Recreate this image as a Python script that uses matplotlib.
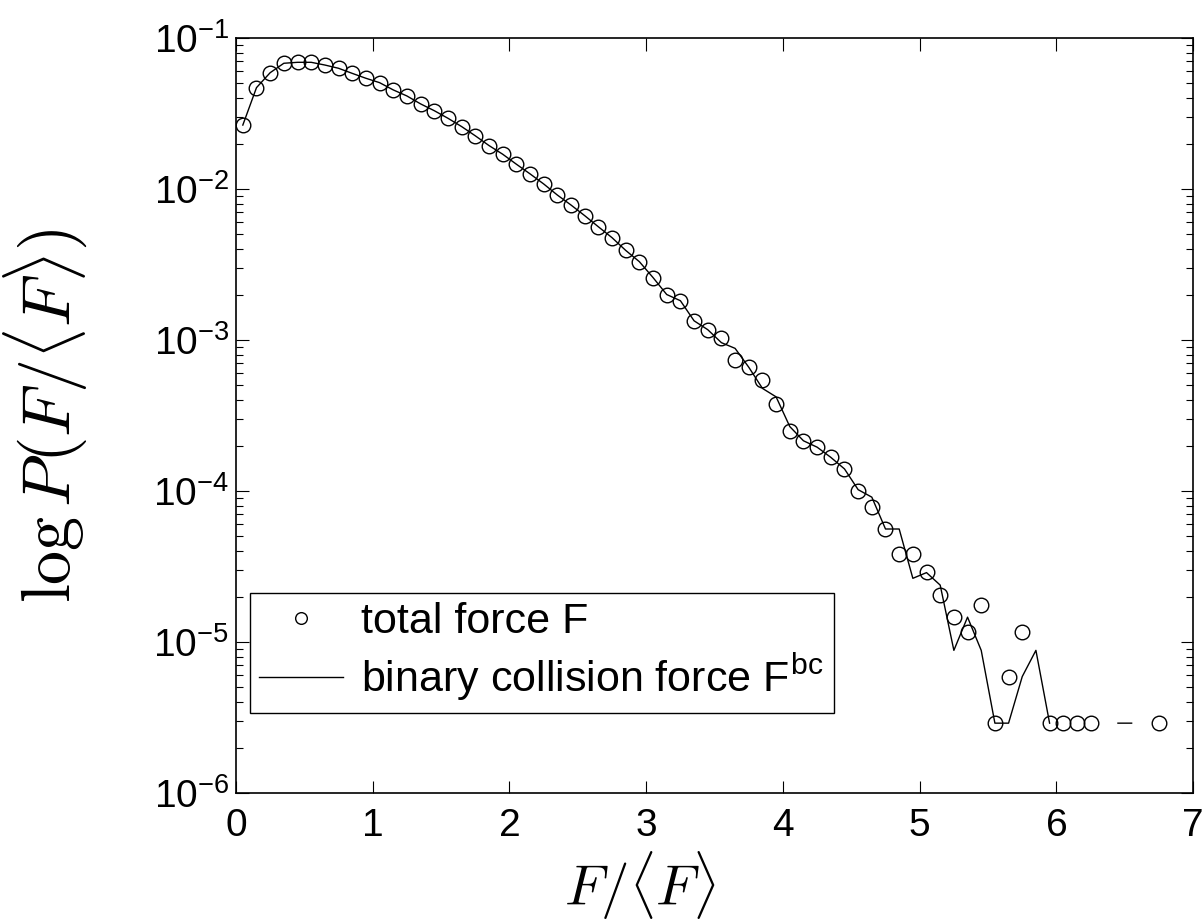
import numpy as np
import matplotlib.pyplot as plt
from matplotlib.ticker import LogLocator, NullFormatter, FixedLocator

plt.rcParams['font.family'] = ['Liberation Sans', 'DejaVu Sans']
plt.rcParams['mathtext.fontset'] = 'cm'

# bin centres of F/<F>
x = np.round(np.arange(0.05, 6.80, 0.1), 2)

nan = np.nan
# total force F (circles); nan = empty bin
p_total = [0.0265, 0.0469, 0.0589, 0.0680, 0.0690, 0.0690, 0.0662, 0.0630, 0.0583, 0.0541,
           0.0506, 0.0453, 0.0413, 0.0366, 0.0330, 0.0294, 0.0259, 0.0225, 0.0194, 0.0170,
           0.0146, 0.0126, 0.0108, 0.00912, 0.00783, 0.00666, 0.00562, 0.00476, 0.00392, 0.00330,
           0.00259, 0.00200, 0.00182, 0.00134, 0.00117, 0.00103, 7.41e-4, 6.62e-4, 5.43e-4, 3.76e-4,
           2.51e-4, 2.15e-4, 1.95e-4, 1.67e-4, 1.40e-4, 1.00e-4, 7.87e-5, 5.6e-5, 3.83e-5, 3.83e-5,
           2.92e-5, 2.05e-5, 1.47e-5, 1.17e-5, 1.76e-5, 2.9e-6, 5.9e-6, 1.17e-5, nan, 2.9e-6,
           2.9e-6, 2.9e-6, 2.9e-6, nan, nan, nan, nan, 2.9e-6]

# binary collision force F^bc (line)
p_bc = [0.0265, 0.0469, 0.0589, 0.0680, 0.0690, 0.0690, 0.0662, 0.0630, 0.0583, 0.0541,
        0.0506, 0.0453, 0.0413, 0.0366, 0.0330, 0.0294, 0.0259, 0.0225, 0.0194, 0.0170,
        0.0146, 0.0126, 0.0108, 0.00912, 0.00783, 0.00666, 0.00562, 0.00476, 0.00392, 0.00330,
        0.00259, 0.00200, 0.00182, 0.00134, 0.00117, 9.6e-4, 8.8e-4, 6.6e-4, 4.78e-4, 4.2e-4,
        2.67e-4, 2.15e-4, 1.95e-4, 1.67e-4, 1.40e-4, 1.02e-4, 9.1e-5, 5.6e-5, 5.6e-5, 2.64e-5,
        2.88e-5, 2.38e-5, 8.8e-6, 1.46e-5, 8.8e-6, 2.9e-6, 2.9e-6, 5.9e-6, 8.8e-6, 2.9e-6,
        nan, nan, nan, nan, 2.9e-6, 2.9e-6, nan, nan]

xticks = [0, 1, 2, 3, 4, 5, 6, 7]

fig = plt.figure(figsize=(12.04, 9.24), dpi=100)
ax = fig.add_axes([0.196, 0.1418, 0.795, 0.8171])

ax.plot(x, p_total, 'o', mfc='none', mec='k', mew=1.0, ms=10.5, label='total force F')
ax.plot(x, p_bc, 'k-', lw=1.0, label=r'binary collision force F$^{\mathdefault{bc}}$')

ax.set_yscale('log')
ax.set_xlim(0, 7)
ax.set_ylim(1e-6, 1e-1)
ax.xaxis.set_major_locator(FixedLocator(xticks))
ax.yaxis.set_major_locator(LogLocator(base=10, numticks=10))
ax.yaxis.set_minor_locator(LogLocator(base=10, subs=np.arange(2, 10), numticks=20))
ax.yaxis.set_minor_formatter(NullFormatter())

ax.tick_params(which='both', direction='in', top=True, right=True, labelsize=28, width=0.8)
ax.tick_params(which='major', length=9)
ax.tick_params(which='minor', length=5)
ax.tick_params(axis='x', which='major', pad=11)
ax.tick_params(axis='y', which='major', pad=5)
for s in ax.spines.values():
    s.set_linewidth(1.2)

ax.set_xlabel(r'$F/\langle F\rangle$', fontsize=41)
ax.xaxis.set_label_coords(0.422, -0.074)
ax.set_ylabel(r'$\log P(F/\langle F\rangle)$', fontsize=49, labelpad=46)

leg = ax.legend(loc='lower left', bbox_to_anchor=(0.0146, 0.106), borderaxespad=0,
                fontsize=31, markerscale=0.8, handlelength=1.95, frameon=True, fancybox=False,
                edgecolor='k', framealpha=1, borderpad=0.22, labelspacing=0.22, handletextpad=0.42)
leg.get_frame().set_linewidth(1.0)

plt.savefig('out.png', dpi=100)
